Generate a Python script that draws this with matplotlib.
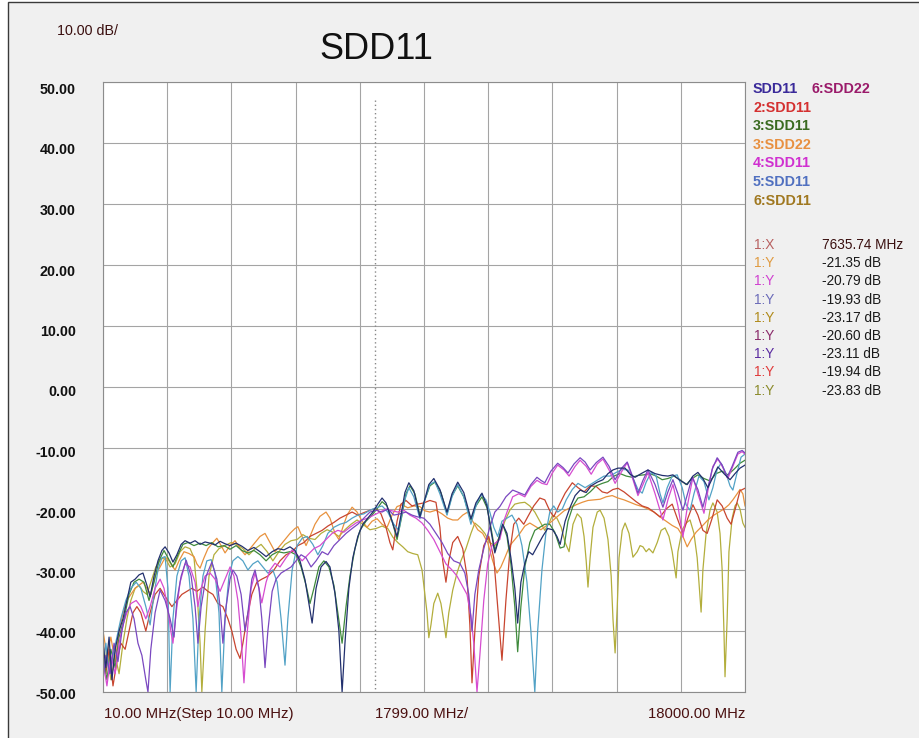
import matplotlib
matplotlib.use("Agg")
import matplotlib.pyplot as plt
from matplotlib.patches import Rectangle

plt.rcParams['font.family'] = ['Liberation Sans', 'DejaVu Sans']

# ---------------- data ----------------
x_start = 10.0
x_stop = 18000.0
x_div = 1799.0
y_ticks = [50, 40, 30, 20, 10, 0, -10, -20, -30, -40, -50]
marker_freq = 7635.74

# SDD11 (navy)
f_sdd11 = [10,90,180,260,350,460,570,680,790,910,1020,1130,1240,1330,1440,1550,1660,1750,1860,1970,
           2080,2200,2310,2450,2590,2730,2870,3010,3150,3290,3430,3570,3740,3900,4070,4240,4410,4580,4750,4910,
           5080,5250,5390,5530,5670,5780,5870,5980,6120,6260,6370,6510,6620,6710,6790,6900,7010,7150,7290,7430,
           7570,7710,7830,7940,8080,8250,8360,8470,8580,8720,8890,9000,9140,9280,9450,9650,9790,9950,10120,10320,
           10460,10630,10770,10880,10990,11100,11210,11330,11440,11550,11630,11720,11830,11940,12050,12190,12330,12470,12610,12730,
           12820,12960,13100,13240,13380,13550,13690,13860,14020,14160,14300,14440,14640,14780,14920,15090,15280,15480,15680,15840,
           15980,16180,16380,16540,16680,16820,16960,17100,17240,17410,17580,17720,17860,18000]
v_sdd11 = [-42,-46,-41,-48,-43,-40,-38,-35,-32,-31.5,-30.8,-30.5,-32.5,-34.4,-31,-28.5,-26.8,-26.2,-27.2,-28.7,
           -27.5,-25.8,-25.2,-25.6,-25.2,-25.8,-25.4,-25.6,-25.9,-25.3,-25.7,-26.0,-25.6,-26.1,-26.8,-26.3,-27.0,-27.8,-27.0,-26.5,
           -26.7,-26.2,-26.8,-28.5,-31.6,-35.5,-38.7,-33,-29.5,-28.6,-29.5,-33.8,-40,-50,-42,-33,-28,-24.5,-22.5,-21.5,
           -20.5,-19.2,-18.2,-19,-21.5,-24.5,-21,-17.3,-15.7,-17,-21.3,-19.0,-16,-15,-16.8,-20.5,-17.5,-15.6,-17.3,-21.6,
           -19,-17.4,-19.5,-23.5,-27.2,-25,-22.5,-24,-28,-33,-38.7,-32,-28.9,-27,-27.5,-26,-24.5,-23.2,-23.4,-24.5,
           -25.8,-22,-19.7,-17.8,-16.9,-17.3,-16.2,-15.6,-15.2,-14.2,-13.6,-13.3,-13.3,-14.3,-14.8,-14.2,-13.6,-14.2,-14.5,-14.6,
           -14.4,-15.3,-16.0,-14.6,-14.0,-15.0,-16.5,-14.8,-13.1,-14.2,-15.2,-14.2,-13.3,-12.8]

# 6:SDD22 (purple)
f_6sdd22 = [10,90,210,320,430,540,650,770,880,990,1100,1210,1270,1350,1470,1610,1750,1890,2000,2080,
            2200,2340,2480,2590,2670,2760,2900,3060,3200,3290,3370,3460,3570,3650,3760,3880,3990,4070,4180,4270,
            4380,4460,4550,4630,4750,4860,5000,5140,5280,5420,5560,5700,5840,5980,6150,6310,6480,6650,6820,6990,
            7150,7320,7490,7660,7830,7990,8160,8330,8500,8670,8830,9000,9170,9340,9510,9670,9840,10010,10150,10260,
            10350,10430,10540,10680,10850,10990,11130,11300,11490,11660,11830,12000,12170,12280,12390,12560,12750,12900,13040,13210,
            13380,13520,13660,13830,14020,14190,14360,14530,14700,14840,15000,15140,15280,15480,15700,15840,15980,16120,16260,16400,
            16520,16680,16820,16960,17080,17220,17360,17500,17640,17800,17920,18000]
v_6sdd22 = [-48,-44,-47,-42,-45,-40,-37,-36,-38,-42,-44,-48,-50,-43,-37,-33.3,-35,-38,-41,-35,
            -31,-28.4,-31,-36,-42,-36,-31,-28.7,-31.5,-36,-42,-36,-31.5,-30,-31,-34,-40,-37,-31.5,-30,
            -33,-38,-46,-40,-33.5,-31.5,-30.5,-30,-29.5,-28.5,-27.5,-28,-29.5,-28.5,-27,-27.5,-26,-25,-24,-23.2,
            -22.5,-21.5,-20.5,-20.2,-20.5,-20,-21,-20.8,-20.5,-21,-21.3,-21.5,-22.5,-24,-25.5,-27.3,-28.5,-28.9,-30.5,-34,
            -40,-34,-30,-26.5,-23,-20.5,-19.6,-18,-16.9,-17.3,-17.7,-16,-14.8,-15.3,-15.7,-13.8,-12.5,-13.2,-14.1,-12.6,
            -11.6,-12.3,-13.6,-12.4,-11.5,-13,-15.2,-13.4,-12.3,-14.5,-17.4,-15.3,-13.6,-16,-19.7,-17.2,-15.2,-17.5,-20.2,-17.3,
            -14.8,-16.8,-19.7,-16.5,-13.5,-11.6,-12.8,-14.8,-13,-10.7,-10.4,-10.8]

# 2:SDD11 (red)
f_2sdd11 = [10,90,180,290,400,510,630,740,850,960,1070,1210,1330,1470,1610,1770,1940,2080,2220,2360,
            2500,2640,2810,2950,3090,3230,3370,3510,3620,3740,3850,3930,4040,4180,4320,4460,4630,4800,4970,5140,
            5310,5470,5640,5810,5980,6150,6310,6480,6650,6820,6990,7150,7320,7490,7660,7800,7940,8050,8130,8250,
            8360,8500,8670,8830,9000,9170,9340,9450,9530,9620,9700,9810,9950,10090,10210,10290,10350,10430,10540,10680,
            10820,10960,11070,11190,11300,11410,11520,11660,11800,11910,12080,12250,12390,12530,12640,12780,12960,13160,13320,13490,
            13660,13830,14000,14140,14300,14440,14610,14780,14950,15120,15280,15450,15620,15790,15960,16100,16260,16400,16540,16680,
            16820,16940,17080,17220,17360,17500,17610,17750,17860,18000]
v_2sdd11 = [-41,-47,-43,-49,-45,-42,-43,-40,-37,-36,-37,-40,-37,-34,-33,-34.5,-36,-35,-34,-33.5,
            -33,-33.5,-32.8,-33.5,-34,-35.5,-36,-38,-40,-43,-44.5,-42,-38,-34,-32,-31.5,-31,-30,-28.5,-27.5,
            -27,-26,-25.5,-24.5,-24,-23.5,-22.8,-22.2,-21.5,-21,-20.5,-21,-20.6,-20.2,-19.9,-20.8,-23,-25.5,-26.7,-22,
            -19.2,-18.6,-19.5,-19.2,-19,-18.6,-18.9,-23,-28.5,-32,-28.5,-25.5,-24.5,-26.5,-31,-39,-48.5,-40,-31,-26,
            -24.5,-28,-36,-44.8,-35,-27,-22.5,-21.5,-22.5,-21.3,-19.5,-18.2,-18.5,-20.3,-21.3,-19.5,-17.4,-15.7,-16.5,-17.2,
            -16.2,-16.3,-17.2,-17.4,-16.8,-16.6,-17.2,-18,-18.8,-19.5,-19.8,-20.5,-21.3,-20,-19.2,-21.5,-24,-21.5,-19.3,-21,
            -23.5,-24,-21.5,-18.5,-19.5,-21.5,-22.5,-19.5,-17,-16.6]

# 3:SDD11 (green)
f_3sdd11 = [10,120,230,350,460,600,740,880,1020,1160,1300,1440,1580,1720,1830,1970,2110,2250,2390,2560,
            2730,2900,3060,3230,3400,3570,3740,3900,4070,4240,4410,4580,4750,4910,5080,5250,5420,5560,5700,5810,
            5920,6060,6200,6340,6480,6590,6710,6820,6930,7070,7210,7380,7550,7710,7830,7970,8110,8250,8390,8500,
            8610,8750,8890,9030,9170,9310,9480,9650,9790,9950,10120,10320,10460,10630,10770,10880,10990,11100,11210,11330,
            11440,11550,11630,11720,11830,11970,12110,12250,12390,12530,12670,12820,12930,13040,13180,13320,13490,13660,13830,14000,
            14160,14330,14500,14670,14840,15000,15170,15340,15510,15680,15840,16010,16180,16350,16520,16680,16850,17020,17190,17360,
            17520,17690,17860,18000]
v_3sdd11 = [-44,-48,-43,-46,-41,-38,-34,-32,-31.5,-32,-35,-32,-28.5,-26.8,-28,-29.5,-27.5,-25.8,-25.5,-26,
            -25.6,-26,-25.5,-26.2,-26,-26.6,-26,-26.8,-27.2,-26.8,-27.5,-28.5,-27.5,-27,-27.2,-27,-27.5,-29.5,-32.5,-35.5,
            -33,-29.5,-28.5,-29.5,-32.5,-37,-42,-36,-31,-26.5,-23.5,-22,-21,-19.8,-18.8,-19.5,-22,-25,-21,-17.5,
            -16.2,-17.5,-21,-18.5,-16.2,-15.6,-17.3,-20.8,-17.8,-16.2,-18,-21.8,-19.5,-18,-19.8,-23,-26.8,-24.8,-22.5,-24.5,
            -29,-36,-43.4,-36,-29.5,-25.5,-23.5,-23,-22.5,-22.5,-23.8,-26.4,-26.2,-22,-19.5,-18.2,-18,-17.2,-16.2,-15.8,
            -15.5,-14.6,-14.2,-14.6,-14.8,-14.5,-14.4,-14.2,-14.6,-15.2,-15,-14.6,-15.2,-16,-15,-14.4,-15,-15.4,-14.2,-13.8,
            -14.4,-13.5,-12.5,-12]

# 3:SDD22 (orange)
f_3sdd22 = [10,120,230,350,460,570,680,790,910,1020,1130,1240,1350,1470,1610,1720,1800,1910,2030,2140,
            2280,2420,2560,2640,2730,2840,2950,3090,3200,3320,3430,3570,3710,3850,3990,4130,4270,4410,4550,4690,
            4830,4970,5110,5250,5390,5470,5590,5700,5810,5950,6090,6260,6370,6510,6620,6730,6850,6990,7130,7270,
            7410,7550,7690,7830,7970,8110,8250,8390,8550,8720,8890,9030,9170,9340,9510,9670,9810,9950,10090,10230,
            10370,10510,10650,10790,10930,11050,11160,11270,11410,11550,11690,11830,11970,12110,12280,12420,12590,12750,12930,13100,
            13270,13440,13600,13770,13940,14110,14280,14440,14610,14780,14950,15120,15280,15450,15620,15790,15960,16120,16260,16380,
            16490,16630,16800,16960,17130,17270,17410,17550,17660,17780,17860,17940,18000]
v_3sdd22 = [-40,-44,-41,-45,-40,-37,-35,-34,-33,-32.5,-32,-33,-34,-31,-29.5,-28.3,-28,-29,-30,-28.5,
            -27,-27.3,-27.8,-29,-29.7,-28,-26.5,-25.5,-24.8,-26,-27.2,-26,-25.2,-26.5,-27.5,-26.5,-25.5,-24.5,-24,-25.5,
            -27,-26,-25,-24,-23.2,-22.9,-24.5,-26,-24.5,-22.5,-21.2,-20.5,-21.5,-24,-25,-23,-21,-19.7,-20.5,-22,
            -23,-22,-21.6,-22.5,-23,-21,-19.6,-19.3,-19.8,-19.5,-19.6,-20.3,-20.5,-20.2,-20.8,-21.5,-21.8,-21.8,-21,-20.5,
            -22,-23.4,-24,-25.5,-28.5,-30.5,-29.5,-28,-26,-25,-24,-22.8,-22.3,-22.8,-23.4,-22.8,-22,-21.2,-20.3,-19.8,
            -19.3,-18.9,-18.6,-18.5,-18.4,-18,-17.8,-18.2,-18.5,-18.9,-19.3,-19.6,-20,-20.5,-21.3,-22,-22.7,-23.2,-24.5,-26.2,
            -25,-23.8,-22.8,-21.8,-21,-20.5,-20,-19.3,-18.5,-17.5,-16.8,-17.5,-19.5]

# 4:SDD11 (magenta)
f_4sdd11 = [10,120,230,350,460,570,680,790,940,1070,1210,1330,1470,1610,1720,1830,1910,1970,2060,2170,
            2310,2450,2590,2670,2760,2870,3010,3150,3290,3430,3570,3680,3790,3880,3960,4040,4160,4270,4380,4460,
            4580,4690,4830,4970,5140,5310,5450,5590,5750,5920,6090,6260,6430,6590,6760,6930,7100,7270,7430,7600,
            7770,7940,8110,8270,8440,8610,8780,8950,9110,9280,9450,9620,9790,9930,10070,10210,10320,10400,10490,10570,
            10680,10790,10910,11020,11130,11240,11350,11490,11660,11830,12000,12170,12310,12450,12590,12750,12930,13070,13240,13380,
            13550,13690,13860,14020,14190,14360,14530,14700,14840,15000,15140,15280,15480,15700,15840,15980,16120,16260,16400,16540,
            16680,16850,16960,17100,17240,17380,17520,17660,17800,17920,18000]
v_4sdd11 = [-45,-49,-44,-47,-42,-39,-37,-35.5,-35,-36,-38,-36,-33,-31.5,-33,-36.5,-40,-42,-37,-32,
            -29,-29.5,-32,-36,-33,-31,-30.5,-31.5,-33.5,-31.5,-29.5,-31,-35,-41,-48.5,-41,-33,-30.5,-33,-35.4,
            -32,-30,-28.9,-29.5,-28,-26.7,-27.5,-28.5,-27.5,-26.5,-26,-25,-24,-23.5,-23.8,-23,-22.3,-21.8,-21.5,-21,
            -20.5,-20,-20.3,-20.5,-20.2,-21,-21.5,-22.3,-23.5,-25,-27,-29,-30,-31,-32.5,-34,-37.5,-42,-50,-44,
            -35,-29,-26,-25.5,-25,-22,-20.2,-18,-17.5,-18,-16.3,-15.3,-15.8,-16,-14.2,-12.8,-13.6,-14.6,-13,-12,
            -13,-14.3,-12.6,-11.8,-13.6,-15.8,-14,-12.4,-14.8,-17.8,-16,-14,-17.5,-21.8,-18.5,-16,-19.5,-24.6,-19,-14.8,
            -17.5,-20.7,-17,-13,-11.8,-13.2,-15,-13,-11,-10.6,-11]

# 5:SDD11 (blue)
f_5sdd11 = [10,90,180,290,400,510,650,790,940,1070,1210,1330,1440,1550,1660,1750,1830,1890,1970,2080,
            2200,2310,2420,2530,2620,2700,2810,2920,3040,3150,3260,3340,3430,3540,3650,3790,3930,4070,4210,4350,
            4490,4630,4770,4890,5000,5110,5190,5310,5450,5590,5730,5890,6030,6170,6310,6480,6650,6820,6990,7150,
            7320,7490,7660,7830,7990,8160,8300,8440,8580,8720,8890,9030,9170,9310,9450,9650,9790,9950,10120,10320,
            10460,10600,10740,10850,10960,11070,11190,11330,11470,11610,11750,11890,12000,12110,12190,12310,12420,12530,12640,12750,
            12880,12990,13160,13320,13520,13690,13880,14050,14220,14390,14560,14720,14890,15000,15120,15230,15370,15510,15620,15700,
            15820,15960,16100,16240,16350,16460,16570,16710,16850,16990,17100,17220,17330,17470,17580,17660,17780,17890,18000]
v_5sdd11 = [-46,-42,-47,-44,-41,-38,-35,-33,-32,-33,-36,-39,-34,-30,-28,-27.8,-33,-50,-38,-31,
            -28.5,-28,-31,-38,-50,-38,-31,-28.5,-28.3,-30.5,-37,-50,-38,-31,-28.5,-27.8,-28.5,-30,-29,-28.5,
            -29.5,-30.5,-30,-32,-38,-45.6,-38,-30,-26,-24.8,-24.5,-25.8,-27.5,-26,-24,-23,-22.5,-22.2,-21.5,-21,
            -20.8,-20.2,-19.8,-19.5,-20.5,-22.5,-23.5,-19,-16.5,-18,-21.6,-18.5,-16,-15.5,-17.5,-21,-18,-16,-18,-22.5,
            -19.5,-17.6,-18.5,-20.5,-23,-24.5,-22,-21.5,-21,-22.5,-26,-32,-40,-50,-40,-30,-24,-20.5,-19.5,-20.5,
            -20,-18.5,-16.8,-15.8,-16.5,-15.9,-15.2,-14.6,-14.6,-14,-13.5,-13.6,-15.3,-16.8,-17.4,-15.6,-14.0,-14.6,-17.5,-19,
            -16.5,-14.6,-14.4,-16.5,-19.3,-20.2,-17.5,-14.6,-15.5,-18.5,-16.5,-13.5,-12.5,-14.2,-16.2,-16.9,-14,-11.5,-11]

# 6:SDD11 (olive)
f_6sdd11 = [10,120,230,350,460,570,680,790,910,1020,1130,1240,1350,1490,1630,1750,1890,2030,2170,2310,
            2450,2560,2640,2730,2780,2870,2980,3120,3260,3430,3600,3760,3930,4100,4270,4440,4610,4770,4940,5110,
            5280,5450,5610,5780,5950,6120,6290,6450,6620,6790,6960,7130,7290,7490,7660,7830,7990,8130,8270,8410,
            8550,8690,8830,8950,9030,9090,9140,9200,9280,9390,9480,9560,9620,9700,9810,9930,10040,10180,10320,10430,
            10570,10710,10850,10990,11130,11270,11410,11550,11690,11830,11970,12110,12250,12390,12500,12610,12730,12850,12960,13070,
            13180,13300,13410,13490,13550,13600,13660,13740,13860,13940,14050,14160,14250,14300,14360,14420,14470,14560,14640,14750,
            14860,14980,15060,15140,15230,15310,15420,15540,15650,15760,15870,15960,16010,16070,16120,16240,16350,16460,16570,16660,
            16710,16770,16820,16910,17020,17100,17220,17300,17360,17410,17440,17500,17550,17640,17720,17780,17860,17940,18000]
v_6sdd11 = [-47,-43,-48,-44,-47,-42,-38,-35,-33,-32.5,-33.5,-34,-32,-29.5,-28.2,-28,-29.5,-29,-27,-26.2,
            -26.5,-28,-33,-42,-50,-40,-31,-27.5,-26.5,-26,-25.5,-25.8,-26.5,-27.5,-26.5,-25.8,-27,-28.5,-27,-25.8,
            -25.2,-25,-24.2,-24.8,-25,-24,-23.4,-23.8,-24.5,-23.4,-22.5,-21.8,-22.5,-23.4,-23.2,-22.8,-23.2,-24.6,-25.5,-26.2,
            -27,-27.3,-27.5,-30,-34,-37,-41.1,-39,-35.5,-33.8,-35.5,-38.5,-41.1,-37,-33.3,-30.5,-28.5,-26.5,-24,-22.3,
            -23,-24,-25.5,-26,-24.5,-22,-20.2,-19.2,-19,-18.9,-19.5,-20.5,-22,-23.5,-22.4,-21,-21.5,-23,-25.5,-27,
            -22.5,-20.8,-21.5,-24.5,-28.5,-32.8,-28,-23,-20.5,-20.2,-21.5,-25,-31,-38,-43.6,-36,-28,-23.5,-22.3,-24,
            -27.9,-27,-26,-26.2,-27,-26.5,-27.2,-25.5,-23.5,-23.1,-24.5,-27,-29,-31.3,-27,-23.4,-22.3,-21.8,-24,-28,
            -32,-36.9,-30,-24,-20.2,-19,-20.5,-24,-30,-40,-47.5,-38,-27,-21.5,-19.5,-19,-20,-22.3,-23]

series = [
    (f_6sdd11, v_6sdd11, '#b3ae3c'),
    (f_3sdd22, v_3sdd22, '#e8923e'),
    (f_2sdd11, v_2sdd11, '#c8452f'),
    (f_3sdd11, v_3sdd11, '#3f8a3c'),
    (f_5sdd11, v_5sdd11, '#52a2c6'),
    (f_4sdd11, v_4sdd11, '#d64cd0'),
    (f_6sdd22, v_6sdd22, '#7a48c0'),
    (f_sdd11, v_sdd11, '#22306e'),
]

legend_rows = [
    [("SDD11", '#3a2a9a'), ("6:SDD22", '#9a1a6a')],
    [("2:SDD11", '#d43030')],
    [("3:SDD11", '#3a6a20')],
    [("3:SDD22", '#e89040')],
    [("4:SDD11", '#d030d0')],
    [("5:SDD11", '#5070c0')],
    [("6:SDD11", '#a07820')],
]

readout_labels = ["1:X", "1:Y", "1:Y", "1:Y", "1:Y", "1:Y", "1:Y", "1:Y", "1:Y"]
readout_label_colors = ['#b86060', '#e09a40', '#d040d0', '#6a6ab8', '#b08a1a',
                        '#8a2a6a', '#5a2aa0', '#e03a3a', '#8a8a2a']
readout_values = ["7635.74 MHz", "-21.35 dB", "-20.79 dB", "-19.93 dB", "-23.17 dB",
                  "-20.60 dB", "-23.11 dB", "-19.94 dB", "-23.83 dB"]

x_labels = ["10.00 MHz(Step 10.00 MHz)", "1799.00 MHz/", "18000.00 MHz"]
scale_label = "10.00 dB/"
title = "SDD11"

# ---------------- figure ----------------
W, H = 919, 738
fig = plt.figure(figsize=(W / 100, H / 100), dpi=100, facecolor='white')


def fx(px):
    return px / W


def fy(py):
    return 1 - py / H


# panel background and border
fig.patches.append(Rectangle((fx(8), -0.01), 1.0, fy(2) + 0.01, transform=fig.transFigure,
                             facecolor='#f0f0f0', edgecolor='#3a3a3a', lw=1.0, zorder=-10))

ax = fig.add_axes([fx(103), fy(692), 642 / W, 610 / H])
ax.set_facecolor('white')
ax.set_xlim(x_start, x_stop)
ax.set_ylim(y_ticks[-1], y_ticks[0])
ax.set_xticks([x_start + k * x_div for k in range(11)])
ax.set_yticks(y_ticks)
ax.grid(True, color='#a4a4a4', lw=0.8)
ax.set_axisbelow(True)
ax.tick_params(length=0, labelleft=False, labelbottom=False)
for s in ax.spines.values():
    s.set_color('#8c8c8c')
    s.set_linewidth(0.8)

for f, v, c in series:
    ax.plot(f, v, color=c, lw=0.9, solid_joinstyle='round')

# marker line
ax.plot([marker_freq, marker_freq], [47, y_ticks[-1]], color='#888888', lw=1.0,
        linestyle=(0, (1, 2)), zorder=1)

# y tick labels
for v in y_ticks:
    off = 2 + 0.05 * (v + 50)
    ax.annotate(f"{v:.2f}", xy=(0, v), xycoords=('axes fraction', 'data'),
                xytext=(-27, -(off + 5)), textcoords='offset pixels',
                ha='right', va='baseline', fontsize=10.3, fontweight='bold', color='#111111',
                annotation_clip=False)

# x labels
xl_color = '#4a1010'
fig.text(fx(104), fy(718), x_labels[0], ha='left', va='baseline', fontsize=10.7, color=xl_color)
fig.text(fx(375), fy(718), x_labels[1], ha='left', va='baseline', fontsize=10.7, color=xl_color)
fig.text(fx(745), fy(718), x_labels[2], ha='right', va='baseline', fontsize=10.7, color=xl_color)

# title and scale
fig.text(fx(376), fy(59), title, ha='center', va='baseline', fontsize=26, color='#111111')
fig.text(fx(57), fy(35), scale_label, ha='left', va='baseline', fontsize=10.3, color='#3a0e0e')

# legend
for i, row in enumerate(legend_rows):
    yb = 93 + i * 18.6
    xs = [753, 811]
    for j, (txt, col) in enumerate(row):
        fig.text(fx(xs[j]), fy(yb), txt, ha='left', va='baseline', fontsize=10.3,
                 fontweight='bold', color=col)

# marker readout
for i, (lab, col, val) in enumerate(zip(readout_labels, readout_label_colors, readout_values)):
    yb = 249 + i * 18.2
    fig.text(fx(754), fy(yb), lab, ha='left', va='baseline', fontsize=9.8, color=col)
    fig.text(fx(822), fy(yb), val, ha='left', va='baseline', fontsize=9.8,
             color='#3a1010' if i == 0 else '#1a1a1a')

fig.savefig('out.png', dpi=100, facecolor=fig.get_facecolor())
